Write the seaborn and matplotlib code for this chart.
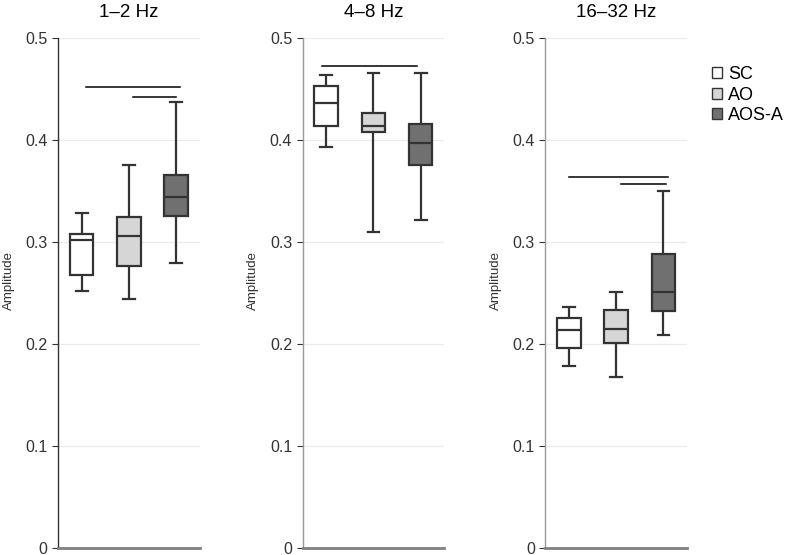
import pandas as pd
import seaborn as sns
import matplotlib.pyplot as plt
from matplotlib.patches import Patch

# five-number summaries (min, q1, median, q3, max)
bands = ['1–2 Hz', '4–8 Hz', '16–32 Hz']
groups = ['SC', 'AO', 'AOS-A']
colors = ['#ffffff', '#d6d6d6', '#707070']

sc_vals = [
    [0.252, 0.268, 0.302, 0.308, 0.328],
    [0.3935, 0.414, 0.436, 0.4525, 0.464],
    [0.178, 0.196, 0.214, 0.2253, 0.2367],
]
ao_vals = [
    [0.244, 0.276, 0.306, 0.324, 0.375],
    [0.310, 0.408, 0.414, 0.426, 0.466],
    [0.168, 0.201, 0.2145, 0.2335, 0.251],
]
aosa_vals = [
    [0.279, 0.325, 0.344, 0.366, 0.437],
    [0.322, 0.375, 0.397, 0.4157, 0.466],
    [0.2092, 0.2328, 0.251, 0.288, 0.350],
]

# significance bars: (y, x_start, x_end) in category units
sig_bars = [
    [(0.452, 0.09, 2.08), (0.4425, 1.09, 2.0)],
    [(0.4727, -0.08, 1.92)],
    [(0.364, 0.0, 2.1), (0.357, 1.1, 2.06)],
]

plt.rcParams['font.family'] = ['Liberation Sans', 'DejaVu Sans']

fig = plt.figure(figsize=(7.87, 5.55), dpi=100)
lefts = [0.0737, 0.3845, 0.693]
left_spine = ['#333333', '#999999', '#999999']

for i, band in enumerate(bands):
    ax = fig.add_axes([lefts[i], 0.0126, 0.18, 0.919])
    rows = []
    for g, vals in zip(groups, [sc_vals[i], ao_vals[i], aosa_vals[i]]):
        for v in vals:
            rows.append({'group': g, 'value': v})
    df = pd.DataFrame(rows)

    ax.set_axisbelow(True)
    ax.yaxis.grid(True, color='#ebebeb', linewidth=0.9)
    sns.boxplot(data=df, x='group', y='value', hue='group', order=groups,
                hue_order=groups, palette=colors, whis=(0, 100), width=0.5,
                linecolor='#333333', linewidth=1.6, legend=False, ax=ax)

    for y, x0, x1 in sig_bars[i]:
        ax.plot([x0, x1], [y, y], color='black', linewidth=1.1)

    ax.set_xlim(-0.5, 2.5)
    ax.set_ylim(0, 0.5)
    ax.set_yticks([0, 0.1, 0.2, 0.3, 0.4, 0.5])
    ax.set_yticklabels(['0', '0.1', '0.2', '0.3', '0.4', '0.5'])
    ax.tick_params(axis='y', labelsize=11.5, colors='#333333', length=4, width=0.8)
    ax.tick_params(axis='x', bottom=False, labelbottom=False)
    ax.set_xlabel('')
    ax.set_ylabel('Amplitude', fontsize=9.5, color='#333333')
    ax.yaxis.set_label_coords(-0.305, 0.5235)
    ax.set_title(band, fontsize=13.5, pad=15)

    for s in ['top', 'right']:
        ax.spines[s].set_visible(False)
    ax.spines['left'].set_color(left_spine[i])
    ax.spines['left'].set_linewidth(1.0)
    ax.spines['bottom'].set_color('#808080')
    ax.spines['bottom'].set_linewidth(2.0)

handles = [Patch(facecolor=c, edgecolor='#333333', linewidth=1.0) for c in colors]
fig.legend(handles, groups, loc='upper left', bbox_to_anchor=(0.9047, 0.881),
           frameon=False, fontsize=13, handlelength=0.55, handleheight=0.55,
           handletextpad=0.35, labelspacing=0.2, borderpad=0, borderaxespad=0)

fig.savefig('out.png', dpi=100)
